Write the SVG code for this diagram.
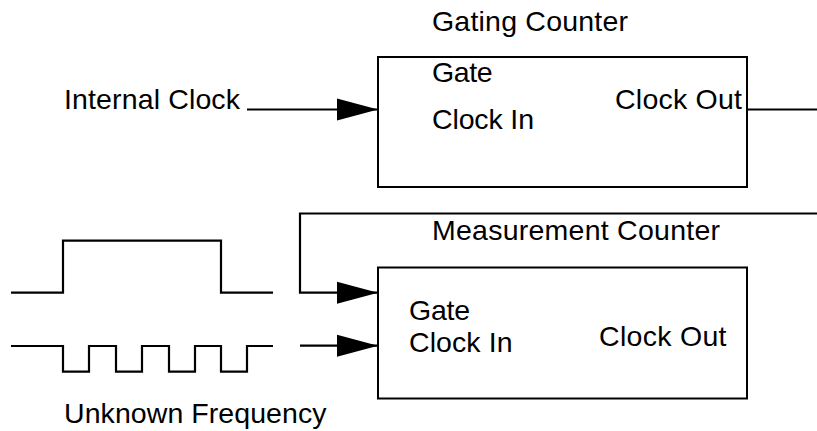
<svg xmlns="http://www.w3.org/2000/svg" width="817" height="431" viewBox="0 0 817 431">
<defs>
<style>
.box{fill:#fff;stroke:#000;stroke-width:2}
.ln{fill:none;stroke:#000;stroke-width:2.2;stroke-linejoin:miter}
.t{font-family:"Liberation Sans",Arial,sans-serif;font-size:28.5px;fill:#000}
</style>
<marker id="arr" markerUnits="userSpaceOnUse" markerWidth="42" markerHeight="24" refX="41" refY="12" orient="auto">
<path d="M0,1 L41,12 L0,23 z" fill="#000"/>
</marker>
</defs>
<rect width="817" height="431" fill="#fff"/>
<g id="gating-counter">
<rect class="box" x="378" y="57" width="369" height="130"/>
<text class="t" x="432" y="30.5" textLength="196">Gating Counter</text>
<text class="t" x="432" y="81.5" textLength="60.5">Gate</text>
<text class="t" x="432" y="128.5" textLength="102">Clock In</text>
<text class="t" x="615" y="108.5" textLength="127">Clock Out</text>
</g>
<g id="measurement-counter">
<rect class="box" x="378" y="267.5" width="369" height="131"/>
<text class="t" x="432" y="240" textLength="288">Measurement Counter</text>
<text class="t" x="409" y="319.5" textLength="61">Gate</text>
<text class="t" x="409" y="351.5" textLength="103.5">Clock In</text>
<text class="t" x="599" y="345.5" textLength="127.5">Clock Out</text>
</g>
<g id="internal-clock">
<text class="t" x="64" y="108.5" textLength="176">Internal Clock</text>
</g>
<g id="gate-signal">
<path class="ln" d="M11,292.7 H63 V240.7 H221 V292.7 H273"/>
</g>
<g id="unknown-frequency">
<path class="ln" d="M11,346 H63 V371.7 H89 V346 H116 V371.7 H142 V346 H169 V371.7 H195 V346 H221 V371.7 H247 V346 H273"/>
<text class="t" x="64" y="423.3" textLength="262.5">Unknown Frequency</text>
</g>
<g id="connectors">
<path class="ln" d="M247,109.5 H378" marker-end="url(#arr)"/>
<path class="ln" d="M747,109.5 H817"/>
<path class="ln" d="M817,213.5 H300 V292.7 H378" marker-end="url(#arr)"/>
<path class="ln" d="M300,345.7 H378" marker-end="url(#arr)"/>
</g>
</svg>
